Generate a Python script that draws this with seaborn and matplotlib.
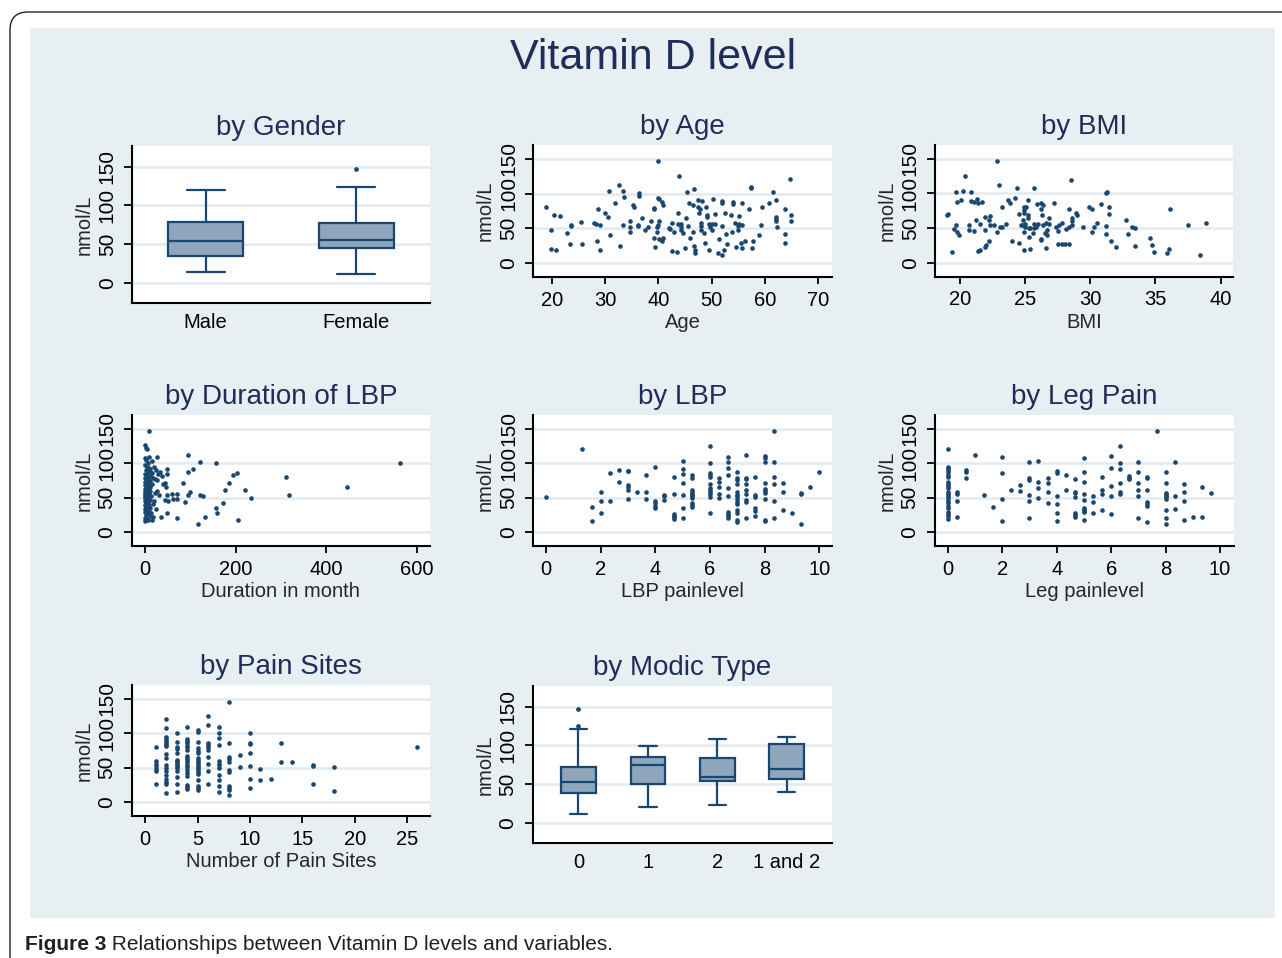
import matplotlib
matplotlib.use("Agg")
import matplotlib.pyplot as plt
import seaborn as sns
from matplotlib.patches import FancyBboxPatch, Rectangle

# ---------------- data ----------------
gender_cat = ["Male"] * 9 + ["Female"] * 9
gender_vitd = [14.2, 25, 34.5, 45, 54.3, 65, 78.9, 100, 120.0,
               11.3, 30, 44.9, 50, 55.6, 65, 77.6, 124.2, 146.7]

age = [18.9, 19.8, 19.9, 20.4, 20.8, 21.6, 22.9, 23.7, 23.7, 23.5,
       25.4, 25.75, 27.9, 28.25, 28.6, 28.4, 29.1, 29.1, 29.9, 30.6,
       30.75, 30.9, 31.9, 32.6, 32.8, 33.3, 33.4, 33.6, 34.75, 34.75,
       34.7, 35.25, 35.4, 36.1, 36.1, 36.4, 36.4, 36.9, 37.4, 38.1,
       38.6, 39.2, 39.2, 39.25, 39.3, 39.7, 39.7, 39.9, 40.0, 39.9,
       40.2, 40.2, 40.2, 40.6, 40.7, 40.8, 40.9, 41.9, 42.2, 42.5,
       42.5, 43.0, 43.4, 43.6, 43.8, 43.75, 44.2, 44.2, 44.3, 44.7,
       45.0, 45.2, 45.3, 45.5, 45.7, 45.9, 46.4, 46.6, 46.5, 46.7,
       46.9, 46.9, 47.4, 47.4, 47.6, 47.8, 47.9, 47.9, 47.9, 48.25,
       48.6, 48.8, 49.0, 49.2, 49.2, 49.4, 49.4, 49.6, 50.0, 50.1,
       50.25, 50.6, 50.7, 51.25, 51.4, 51.9, 51.9, 51.9, 52.0, 52.3,
       52.4, 52.6, 52.8, 53.7, 53.8, 53.9, 53.9, 54.4, 54.6, 54.9,
       55.0, 55.2, 55.2, 55.4, 55.6, 55.6, 55.75, 56.2, 57.0, 57.4,
       57.4, 57.5, 57.8, 58.9, 59.3, 59.4, 60.75, 61.4, 62.0, 62.0,
       62.0, 62.1, 62.2, 63.7, 63.75, 63.7, 64.75, 64.8, 64.9]
age_vitd = [80, 48, 20, 69, 19, 68, 43, 54, 53, 27.5,
            59, 27.5, 58, 56, 78, 32, 54, 19, 72, 66,
            104, 40, 87, 112, 25, 54, 103, 95.5, 60, 52,
            44, 83, 80, 54, 52.5, 101, 97, 65, 47, 51,
            61, 79, 77, 36, 23, 52, 45, 55, 146.6, 93,
            92, 61, 34, 88, 32, 36, 83, 50, 49, 58,
            17, 44, 16, 72, 125, 55.5, 51, 55.5, 47, 42.5,
            22, 64, 102, 53.5, 87, 36, 45, 107, 84, 25,
            18, 14, 80, 90, 72, 78, 57, 53, 47, 89,
            42.5, 28, 81, 69, 65.6, 19, 56, 52, 56.5, 48,
            91.6, 70, 55.5, 14.5, 34, 89, 86, 53, 11, 18,
            72, 41.5, 27.5, 69, 45, 88, 85, 58, 23, 53,
            48, 68, 55.5, 28, 86, 22, 55, 31, 78, 110,
            108.5, 22, 31, 40, 54, 80.5, 87, 102, 66, 63.7,
            61, 90.7, 52, 78, 41.5, 29, 121, 68.5, 61]

bmi = [19.0, 19.05, 19.4, 19.5, 19.7, 19.7, 19.8, 19.8, 19.95, 20.1,
       20.25, 20.4, 20.7, 20.7, 20.85, 20.85, 21.05, 21.1, 21.2, 21.3,
       21.35, 21.4, 21.5, 21.5, 21.7, 21.9, 21.9, 21.95, 21.97, 22.2,
       22.3, 22.2, 22.3, 22.6, 22.8, 22.8, 23.0, 23.1, 23.2, 23.2,
       23.5, 23.7, 23.85, 24.0, 24.2, 24.35, 24.5, 24.5, 24.65, 24.8,
       24.8, 24.9, 24.9, 24.9, 24.9, 24.9, 25.0, 25.0, 25.1, 25.2,
       25.2, 25.2, 25.3, 25.3, 25.4, 25.4, 25.6, 25.65, 25.7, 25.7,
       25.8, 25.9, 26.0, 26.2, 26.2, 26.2, 26.2, 26.3, 26.35, 26.4,
       26.5, 26.6, 26.6, 26.7, 26.7, 26.8, 26.8, 27.2, 27.4, 27.5,
       27.5, 27.6, 27.8, 27.8, 28.05, 28.1, 28.35, 28.35, 28.4, 28.5,
       28.6, 28.6, 28.6, 28.9, 29.0, 29.4, 29.9, 30.1, 30.1, 30.3,
       30.5, 30.8, 31.2, 31.25, 31.2, 31.2, 31.4, 31.4, 31.6, 31.95,
       32.7, 32.9, 33.2, 33.4, 33.4, 34.6, 34.7, 34.9, 35.9, 36.05,
       36.1, 37.5, 38.4, 38.85]
bmi_vitd = [69, 70.4, 15, 48, 54, 102, 87, 44, 40, 91,
            104, 125, 54, 47, 102, 89, 46, 87, 61, 92,
            86, 17, 19, 55.5, 88, 47, 65.6, 22.7, 25, 62,
            68, 31, 54, 54, 45, 146.6, 112, 52, 51, 80,
            55.5, 90.7, 86, 32, 93, 107.6, 71, 29, 54, 54.5,
            62, 81, 76, 72, 45, 18, 52, 56, 81, 90.7,
            69, 65, 50, 37, 20, 49.7, 43, 108.5, 55.5, 50.6,
            51, 85, 55.5, 86, 78, 34, 33, 68.5, 83, 54,
            43, 58, 21, 40, 47, 64.6, 55.5, 86, 52, 46,
            27.5, 54, 57, 27.5, 27.5, 48, 27.5, 52, 77, 120,
            54, 65, 60, 72, 68.5, 52, 80.5, 45, 78, 51.6,
            58, 85, 101, 102, 53, 41, 71, 80, 31, 22,
            61, 41.5, 52, 50, 23.6, 35, 25, 16, 14.5, 20,
            78, 55, 11, 57]

duration = [9.5, 0.5, 2, 5, 0.7, 9.5, 14.6, 25.6, 2, 7,
            1, 4, 8, 12, 20, 24, 3, 6, 10, 15,
            0, 2, 5, 9, 13, 18, 1, 4, 7, 11,
            0, 3, 6, 8, 16, 22, 1, 4, 10, 2,
            5, 0, 7, 3, 12, 1, 6, 2, 9, 0,
            4, 8, 1, 14, 3, 6, 0, 2, 11, 5,
            1, 7, 3, 17, 0, 9, 4, 2, 12, 6,
            1, 24, 3, 8, 0, 13, 5, 2, 10, 18,
            1, 4, 7, 0, 15, 27, 26, 21, 28, 19,
            34, 38, 48, 48, 40, 44, 46, 31.5, 47.6, 44,
            51, 59, 70, 62, 70, 48, 36, 71, 84, 88,
            96, 96, 107, 96, 100, 117, 122, 122, 127, 133,
            157.5, 156, 158, 172, 176, 185, 194, 203, 205, 220,
            235, 311, 317, 446, 563]
duration_vitd = [146.6, 126, 122, 120, 108, 109.6, 104, 109, 105, 101,
                 97, 95, 93, 92, 94, 90, 90, 88, 87, 86,
                 84, 83, 82, 81, 80, 79, 78, 77, 76, 75,
                 73, 72, 71, 70, 70, 77, 68, 67, 66, 65,
                 64, 63, 62, 61, 60, 59, 58, 57, 56, 55,
                 54, 53, 52, 52, 51, 50, 49, 48, 47, 46,
                 45, 44, 42, 41, 40, 39, 38, 36, 35, 34,
                 33, 33, 31, 30, 29, 28, 27, 25, 24, 22,
                 21, 19, 18, 16, 17, 60, 76, 57, 85, 45,
                 87.5, 82, 91, 84, 70, 71, 65, 54, 54, 46,
                 45, 55, 55, 48, 48, 28, 21.6, 20.7, 72, 44,
                 112, 87.5, 91, 54, 58.6, 12, 102, 54, 53, 21.6,
                 101, 34.6, 28, 43, 61, 72, 82.7, 86.5, 18, 61,
                 49, 80, 53.5, 65.6, 101]

lbp_level = [0, 1.33, 1.67, 1.67, 2, 2, 2, 2.33, 2.33, 2.67, 2.67,
             3, 3, 3, 3, 3, 3, 3.33, 3.67, 3.67, 3.67,
             4, 4, 4, 4, 4, 4.33, 4.33, 4.33,
             4.67, 4.67, 4.67, 4.67, 4.67, 4.67,
             5, 5, 5, 5, 5, 5, 5,
             5.33, 5.33, 5.33, 5.33, 5.33, 5.33, 5.33, 5.33, 5.33, 5.33, 5.33,
             6, 6, 6, 6, 6, 6, 6, 6, 6, 6, 6, 6,
             6.33, 6.33, 6.33, 6.33, 6.33,
             6.67, 6.67, 6.67, 6.67, 6.67, 6.67, 6.67, 6.67, 6.67, 6.67,
             7, 7, 7, 7, 7, 7, 7, 7, 7, 7, 7, 7, 7, 7,
             7.33, 7.33, 7.33, 7.33, 7.33, 7.33, 7.33, 7.33, 7.33,
             7.67, 7.67, 7.67, 7.67, 7.67, 7.67,
             8, 8, 8, 8, 8, 8, 8, 8, 8, 8,
             8.33, 8.33, 8.33, 8.33, 8.33, 8.33,
             8.67, 8.67, 8.67, 9, 9.33, 9.33, 9.33, 9.67, 10]
lbp_vitd = [51, 120.7, 37, 16, 57.7, 45.7, 28, 86, 45.7, 90, 73,
            89.5, 88.5, 68, 66, 61.5, 48, 57.7, 83.7, 58.6, 48,
            94.7, 45.7, 41.8, 38.5, 34.6, 54, 52, 46,
            80, 56, 26, 24, 21.6, 19,
            104, 91, 84.6, 72, 54, 35, 21,
            83.7, 78, 61, 58.6, 55.8, 54, 52, 49, 43, 40, 36.5,
            125, 101, 86.5, 83.7, 80.8, 70, 64, 61.5, 57.7, 55, 51, 28,
            78, 73, 66, 55, 50,
            109, 102, 93, 82.7, 64, 52, 30, 27, 24, 21,
            87.5, 78, 76, 70, 57.7, 54, 52, 48, 44, 40.4, 32.7, 28, 18, 14.4,
            112.5, 79, 77, 70, 60.6, 55, 47, 44, 21,
            80, 54, 51.4, 34.6, 31, 23,
            110.6, 108, 102, 72, 62.5, 60, 56.7, 48, 17.8, 16.3,
            147, 102, 80.8, 70, 45, 21,
            71, 58.6, 32.7, 28, 56.7, 55.8, 12, 65.4, 87]

leg_level = [0, 0, 0, 0, 0, 0, 0, 0, 0, 0, 0, 0, 0, 0, 0, 0, 0, 0, 0, 0, 0, 0, 0,
             0.33, 0.33, 0.33, 0.33, 0.67, 0.67, 0.67, 1, 1.33, 1.67,
             2, 2, 2, 2, 2.33, 2.67, 2.67,
             3, 3, 3, 3, 3, 3, 3.33, 3.33, 3.33, 3.33,
             3.67, 3.67, 3.67, 3.67, 4, 4, 4, 4, 4, 4, 4.33, 4.33,
             4.67, 4.67, 4.67, 4.67, 4.67, 4.67, 4.67,
             5, 5, 5, 5, 5, 5, 5, 5, 5, 5,
             5.33, 5.33, 5.33, 5.67, 5.67, 5.67, 5.67,
             6, 6, 6, 6, 6, 6.33, 6.33, 6.33, 6.33, 6.33, 6.33,
             6.67, 6.67, 6.67, 7, 7, 7, 7, 7, 7,
             7.33, 7.33, 7.33, 7.33, 7.33, 7.33, 7.33, 7.67,
             8, 8, 8, 8, 8, 8, 8, 8, 8, 8,
             8.33, 8.33, 8.33, 8.67, 8.67, 8.67, 8.67,
             9, 9.33, 9.33, 9.67]
leg_vitd = [120.7, 95.2, 93.3, 90.4, 87.5, 83.7, 79.8, 72.1, 69.2, 66.3, 63.5, 57.7,
            54.8, 51.9, 49, 45.2, 42.3, 37.5, 34.6, 28.8, 26, 23, 19.2,
            57.7, 55.8, 45.7, 21.6, 90.9, 88, 78.4, 112, 53.8, 37,
            109, 86, 48, 16.3, 61.5, 68, 59.6,
            102, 78.8, 76.4, 54.3, 45.7, 21, 104, 73, 64.4, 49,
            78.4, 72, 57.7, 42.3, 89.4, 86.5, 52, 41, 28.4, 16.3, 83.7, 61.5,
            77, 58.6, 56.7, 50.5, 28, 25, 22.6,
            107.7, 87.5, 73, 54.8, 47, 35.6, 33.7, 30.8, 28.8, 18.3,
            52, 44, 28.4, 80.3, 61.5, 55.8, 32.7,
            110, 93.75, 66.3, 52, 26, 125, 101, 91.3, 70.7, 57.7, 55.8,
            81.7, 79.3, 77.9, 102, 87, 70.7, 61.5, 52, 21,
            80.3, 78.4, 61.5, 43.3, 41, 38.5, 15.4, 146.6,
            87.5, 72, 56.7, 54.8, 52.9, 51, 48, 32.7, 21, 12,
            102, 52.9, 34, 69.7, 59, 45.7, 17.8,
            22.6, 65.4, 21.6, 56.7]

sites = [1, 1, 1, 1, 1, 1, 1,
         2, 2, 2, 2, 2, 2, 2, 2, 2, 2, 2, 2, 2, 2, 2, 2, 2, 2,
         3, 3, 3, 3, 3, 3, 3, 3, 3, 3, 3, 3, 3, 3, 3,
         4, 4, 4, 4, 4, 4, 4, 4, 4, 4, 4, 4, 4, 4, 4, 4, 4, 4, 4,
         5, 5, 5, 5, 5, 5, 5, 5, 5, 5, 5, 5, 5, 5, 5, 5, 5, 5, 5,
         6, 6, 6, 6, 6, 6, 6, 6, 6, 6,
         7, 7, 7, 7, 7, 7, 7, 7, 7, 7, 7, 7,
         8, 8, 8, 8, 8, 8, 8, 8, 8, 8, 8,
         9, 9, 10, 10, 10, 10, 10, 10, 10, 11, 11, 12, 13, 13, 14,
         16, 16, 16, 18, 18, 26]
sites_vitd = [79.6, 59.3, 56, 53, 48, 45, 26.5,
              121, 108, 94, 91.7, 89, 86, 83.5, 81, 70.4, 64, 54.5, 49.7, 45, 39, 33.8, 29, 26.5, 13.5,
              101, 88, 79.6, 77, 71, 61.7, 59.3, 57, 54.5, 52, 49.7, 45, 36, 27, 14.5,
              109, 91.7, 89, 86, 82, 80, 76, 66.6, 63.7, 60.8, 57.9, 54.5, 51, 46, 42.5, 37.6, 24.6, 21.7, 19.3,
              105, 102, 88, 78, 75, 71.4, 64, 61.7, 58.9, 56, 53, 49.7, 46, 43.4, 41, 31.8, 23, 20.7, 18.3,
              124.5, 111.4, 86, 83.5, 80, 76, 65.6, 56, 45.8, 27,
              108.5, 100, 93, 83.5, 59.3, 56, 53.5, 49.7, 40, 32.8, 24, 14.5,
              146, 86, 65.6, 62.7, 58.9, 46, 43.4, 23, 20.7, 17.4, 11,
              69, 50.6, 101, 86, 84.4, 71.4, 52, 33.8, 20.3, 48, 31.8, 33.8, 86, 58.9, 58.9,
              54.5, 53, 27, 51, 16, 79.6]

modic_cat = ["0"] * 13 + ["1"] * 9 + ["2"] * 9 + ["1 and 2"] * 9
modic_vitd = [11.7, 20, 30, 38.2, 45, 50, 53.3, 60, 65, 71.5, 120.9, 124.8, 147.4,
              20.8, 35, 50.3, 60, 75.0, 80, 84.5, 90, 99.7,
              23.4, 40, 53.8, 56, 59.8, 70, 83.7, 95, 108.8,
              39.9, 50, 56.4, 60, 68.9, 80, 101.4, 105, 111.4]
modic_order = ["0", "1", "2", "1 and 2"]

# ---------------- style ----------------
NAVY = "#1a476f"
FILL = "#8ea5bb"
BG = "#e8eff2"
GRID = "#e3eaee"
TITLE = "#1f2d5a"

sns.set_theme(style="white")
plt.rcParams['font.family'] = ['Liberation Sans', 'DejaVu Sans']

W, H = 1282, 958
fig = plt.figure(figsize=(W / 100, H / 100), dpi=100)
fig.patch.set_facecolor("white")

bgax = fig.add_axes([0, 0, 1, 1], zorder=-10)
bgax.set_xlim(0, W)
bgax.set_ylim(H, 0)
bgax.axis("off")
bgax.add_patch(Rectangle((30, 28), 1245, 890, facecolor=BG, edgecolor="none"))
bgax.add_patch(FancyBboxPatch((10, 12), 1320, 1000,
                              boxstyle="round,pad=0,rounding_size=18",
                              fill=False, edgecolor="#222222", lw=1.0))


def px_rect(x0, y0, x1, y1):
    return [x0 / W, 1 - y1 / H, (x1 - x0) / W, (y1 - y0) / H]


def common(ax, title, ylim):
    ax.set_facecolor("white")
    ax.set_ylim(ylim)
    ax.set_yticks([0, 50, 100, 150])
    ax.set_yticklabels(["0", "50", "100", "150"], rotation=90, va="center")
    ax.set_ylabel("nmol/L", fontsize=14.5, labelpad=3)
    ax.tick_params(axis="y", left=True, length=6, width=1.3, pad=5,
                   labelsize=15, color="black", labelcolor="black")
    ax.yaxis.grid(True, color=GRID, lw=1.8)
    ax.xaxis.grid(False)
    ax.set_axisbelow(True)
    for s in ["top", "right"]:
        ax.spines[s].set_visible(False)
    for s in ["left", "bottom"]:
        ax.spines[s].set_color("black")
        ax.spines[s].set_linewidth(1.5)
    ax.set_title(title, fontsize=20, color=TITLE, pad=8)


def scatter_panel(rect, x, y, title, xlabel, xticks, xlim):
    ax = fig.add_axes(px_rect(*rect))
    sns.scatterplot(x=x, y=y, ax=ax, color=NAVY, s=11, linewidth=0, zorder=3)
    common(ax, title, (-20, 170))
    ax.set_xlim(xlim)
    ax.set_xticks(xticks)
    ax.set_xticklabels([str(t) for t in xticks])
    ax.set_xlabel(xlabel, fontsize=14.5, labelpad=2.5)
    ax.tick_params(axis="x", bottom=True, length=5, width=1.3, pad=5,
                   labelsize=14.5, color="black", labelcolor="black")
    return ax


def box_panel(rect, cats, vals, order, title, xlim):
    ax = fig.add_axes(px_rect(*rect))
    sns.boxplot(x=cats, y=vals, order=order, ax=ax, width=0.5, color=FILL,
                saturation=1, linecolor=NAVY, linewidth=1.6, whis=1.5,
                flierprops=dict(marker="o", markersize=2.4,
                                markerfacecolor=NAVY, markeredgecolor=NAVY))
    common(ax, title, (-26.7, 177))
    ax.set_xlim(xlim)
    ax.set_xlabel("")
    ax.tick_params(axis="x", bottom=False, length=0, pad=7,
                   labelsize=14.5, labelcolor="black")
    return ax


box_panel((132, 146, 430, 303.3), gender_cat, gender_vitd, ["Male", "Female"],
          "by Gender", (-0.49, 1.49))
scatter_panel((533.3, 145, 831.7, 276.7), age, age_vitd, "by Age", "Age",
              [20, 30, 40, 50, 60, 70], (16.55, 72.5))
scatter_panel((935, 145, 1233, 276.5), bmi, bmi_vitd, "by BMI", "BMI",
              [20, 25, 30, 35, 40], (18.08, 40.95))
scatter_panel((131.7, 415, 430, 546), duration, duration_vitd,
              "by Duration of LBP", "Duration in month",
              [0, 200, 400, 600], (-29.4, 629.4))
scatter_panel((533.3, 415, 831.7, 546), lbp_level, lbp_vitd, "by LBP",
              "LBP painlevel", [0, 2, 4, 6, 8, 10], (-0.465, 10.46))
scatter_panel((934.7, 415, 1234, 546), leg_level, leg_vitd, "by Leg Pain",
              "Leg painlevel", [0, 2, 4, 6, 8, 10], (-0.477, 10.51))
scatter_panel((131.7, 685, 430, 816), sites, sites_vitd, "by Pain Sites",
              "Number of Pain Sites", [0, 5, 10, 15, 20, 25], (-1.3, 27.2))
box_panel((532.7, 686, 831.7, 843.3), modic_cat, modic_vitd, modic_order,
          "by Modic Type", (-0.66, 3.65))

fig.text(653 / W, 1 - 58 / H, "Vitamin D level", fontsize=31, color=TITLE,
         ha="center", va="center")

t1 = fig.text(25 / W, 1 - 945 / H, "Figure 3", fontsize=15, fontweight="bold",
              ha="left", va="center", color="#231f20")
bgax.annotate(" Relationships between Vitamin D levels and variables.",
              xy=(1, 0.5), xycoords=t1, ha="left", va="center", fontsize=15,
              color="#231f20")

fig.savefig("out.png", dpi=100, facecolor="white")
